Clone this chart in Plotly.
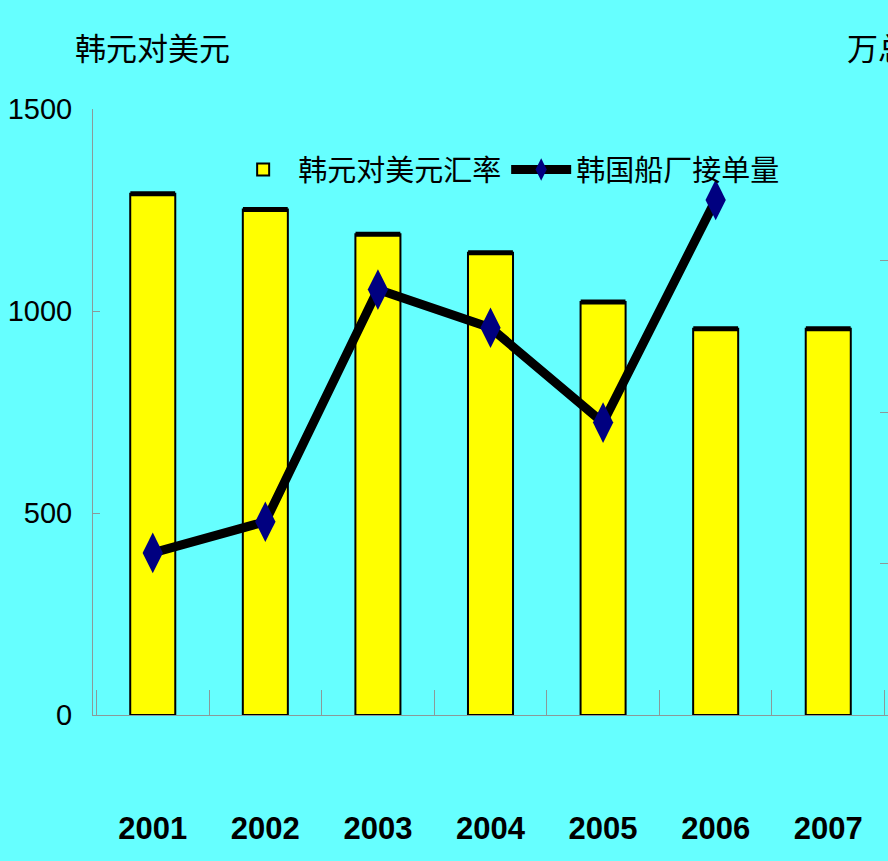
import plotly.graph_objects as go

years = ["2001", "2002", "2003", "2004", "2005", "2006", "2007"]
krw_usd = [1290, 1251, 1190, 1144, 1022, 956, 956]
order_years = ["2001", "2002", "2003", "2004", "2005", "2006"]
orders = [535, 638, 1404, 1278, 965, 1700]

left_ticks = [0, 500, 1000, 1500]
right_ticks = [0, 500, 1000, 1500, 2000]

bar_name = "韩元对美元汇率"
line_name = "韩国船厂接单量"
left_title = "韩元对美元"
right_title = "万总吨"

cjk = "Noto Sans CJK SC"
num = "Liberation Sans, Arial"

fig = go.Figure()
fig.add_trace(go.Bar(
    x=years, y=krw_usd, name=bar_name, width=0.4,
    marker=dict(color="#FFFF00", line=dict(color="black", width=2)),
))
fig.add_trace(go.Scatter(
    x=years, y=krw_usd, mode="markers", showlegend=False, hoverinfo="skip",
    marker=dict(symbol="line-ew", size=32, line=dict(color="black", width=5)),
))
fig.add_trace(go.Scatter(
    x=order_years, y=orders, name=line_name, yaxis="y2", mode="lines+markers",
    line=dict(color="black", width=9),
    marker=dict(symbol="diamond-tall", size=29, color="#000080",
                line=dict(color="#000080", width=0)),
))

fig.update_layout(
    width=888, height=861,
    margin=dict(l=93, r=0, t=109, b=146),
    paper_bgcolor="#66FFFF", plot_bgcolor="#66FFFF",
    showlegend=True,
    legend=dict(orientation="h", x=0.17, y=0.942, xanchor="left", yanchor="top",
                bgcolor="rgba(0,0,0,0)", font=dict(family=cjk, size=29, color="black"),
                itemwidth=60, tracegroupgap=0),
    xaxis=dict(type="category", showline=True, linecolor="#8a9a9a", linewidth=1,
               ticks="inside", tickson="boundaries", ticklen=25, tickcolor="#8a9a9a",
               ticklabelstandoff=86, showgrid=False, zeroline=False, automargin=False,
               tickfont=dict(family=num, size=31, color="black", weight="bold")),
    yaxis=dict(range=[0, 1500], tickvals=left_ticks, showline=True, linecolor="#8a9a9a",
               linewidth=1, ticks="inside", ticklen=7, tickcolor="#8a9a9a",
               showgrid=False, zeroline=False, ticklabelstandoff=14, automargin=False,
               tickfont=dict(family=num, size=29, color="black")),
    yaxis2=dict(range=[0, 2000], tickvals=right_ticks, overlaying="y", side="right",
                showline=False, ticks="inside", ticklen=8, tickcolor="#8a9a9a",
                showticklabels=False, showgrid=False, zeroline=False, automargin=False),
    annotations=[
        dict(text=left_title, xref="paper", yref="paper", x=-0.025, y=1.103,
             xanchor="left", yanchor="middle", showarrow=False,
             font=dict(family=cjk, size=31, color="black")),
        dict(text=right_title, xref="paper", yref="paper", x=0.946, y=1.103,
             xanchor="left", yanchor="middle", showarrow=False,
             font=dict(family=cjk, size=31, color="black")),
    ],
)

fig.write_html(
    "out.html",
    config={"displayModeBar": False},
    post_script="document.body.style.margin='0';document.body.style.background='#66FFFF';",
)
